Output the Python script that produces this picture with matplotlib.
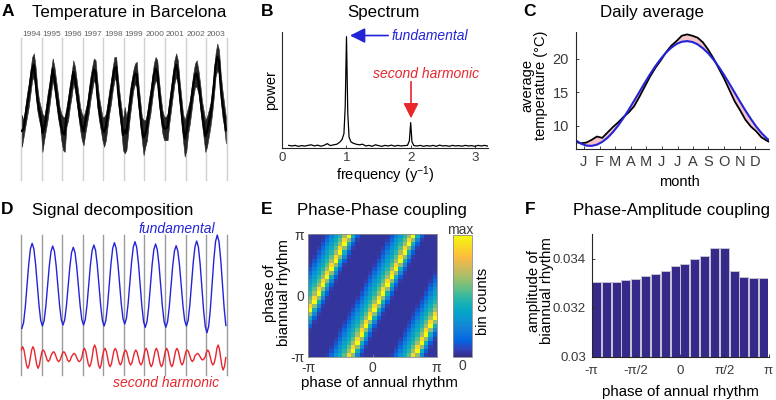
import numpy as np
import matplotlib.pyplot as plt
from matplotlib.colors import LinearSegmentedColormap

plt.rcParams['font.family'] = ['Liberation Sans', 'DejaVu Sans']
plt.rcParams['axes.unicode_minus'] = False
plt.rcParams['mathtext.fontset'] = 'custom'
plt.rcParams['mathtext.rm'] = 'Liberation Sans'
plt.rcParams['mathtext.it'] = 'Liberation Sans:italic'

W, H = 776, 400

# ---- A: daily temperature in Barcelona, monthly upper / lower envelope (degC)
years = list(range(1994, 2004))
temp_hi = [11.6, 10.2, 13.8, 17.5, 20.2, 23.9, 27.5, 28.5, 24.8, 19.3, 15.7, 13.8,
           12.0, 11.1, 13.8, 17.5, 20.2, 23.9, 27.1, 24.8, 21.1, 17.5, 13.8, 12.0,
           11.1, 11.1, 13.8, 16.6, 20.2, 23.0, 26.6, 24.8, 21.1, 17.5, 13.8, 12.0,
           11.1, 12.9, 14.8, 18.4, 22.1, 24.8, 27.1, 26.6, 21.1, 16.6, 13.8, 11.1,
           11.1, 12.0, 14.8, 18.4, 21.1, 24.8, 27.5, 27.5, 22.1, 17.5, 13.8, 10.2,
           13.8, 11.1, 13.8, 18.4, 21.1, 23.9, 25.7, 26.2, 20.2, 15.7, 11.1, 10.2,
           10.2, 12.0, 15.7, 18.4, 22.1, 25.7, 27.5, 26.6, 21.1, 16.6, 12.9, 11.1,
           11.1, 12.0, 15.7, 19.3, 23.0, 26.6, 28.5, 26.6, 21.1, 16.6, 12.0, 10.2,
           12.0, 13.8, 15.7, 19.3, 23.0, 25.7, 26.6, 23.9, 20.2, 15.7, 12.9, 10.2,
           11.1, 12.9, 14.8, 18.4, 23.0, 28.5, 31.2, 29.4, 23.0, 18.4, 14.8, 11.1]
temp_lo = [2.9, 5.6, 8.4, 11.1, 13.8, 17.5, 21.1, 22.1, 17.5, 12.9, 10.2, 8.4,
           1.5, 4.7, 7.5, 10.2, 13.8, 17.5, 21.1, 18.4, 14.8, 11.1, 8.4, 4.7,
           2.0, 1.5, 8.4, 10.2, 13.8, 16.6, 20.2, 18.4, 14.8, 11.1, 7.5, 4.7,
           3.3, 6.5, 9.3, 12.0, 15.7, 18.4, 21.1, 20.2, 13.8, 10.2, 7.5, 4.7,
           2.9, 4.7, 8.4, 12.0, 14.8, 18.4, 21.1, 22.1, 15.7, 11.1, 7.5, 2.0,
           1.1, 2.0, 6.5, 11.1, 14.8, 18.4, 20.2, 19.3, 13.8, 9.3, 4.7, 0.6,
           2.9, 4.7, 9.3, 12.0, 15.7, 19.3, 21.1, 20.2, 14.8, 10.2, 6.5, 4.7,
           4.7, 4.7, 9.3, 12.9, 16.6, 20.2, 22.1, 20.2, 14.8, 10.2, 4.7, 0.2,
           2.0, 6.5, 9.3, 12.9, 16.6, 19.3, 19.3, 17.5, 13.8, 9.3, 5.6, 1.5,
           2.9, 5.6, 8.4, 12.0, 16.6, 22.1, 23.9, 23.0, 15.7, 11.1, 8.4, 3.8]

# ---- B: power spectrum (normalised)
freq = [0.10, 0.15, 0.20, 0.25, 0.30, 0.35, 0.40, 0.45, 0.50, 0.55, 0.60, 0.65,
        0.70, 0.75, 0.80, 0.85, 0.90, 0.93, 0.96, 0.98, 1.00, 1.02, 1.04, 1.07,
        1.10, 1.15, 1.20, 1.25, 1.30, 1.35, 1.40, 1.45, 1.50, 1.55, 1.60, 1.65,
        1.70, 1.75, 1.80, 1.85, 1.90, 1.95, 1.98, 2.00, 2.02, 2.05, 2.10, 2.15,
        2.20, 2.25, 2.30, 2.35, 2.40, 2.45, 2.50, 2.55, 2.60, 2.65, 2.70, 2.75,
        2.80, 2.85, 2.90, 2.95, 3.00, 3.05, 3.10, 3.15, 3.20]
power = [0.020, 0.015, 0.020, 0.012, 0.018, 0.014, 0.020, 0.025, 0.015, 0.022, 0.013, 0.020,
         0.035, 0.018, 0.025, 0.030, 0.050, 0.070, 0.120, 0.350, 0.957, 0.300, 0.090, 0.050,
         0.040, 0.030, 0.025, 0.030, 0.015, 0.020, 0.012, 0.025, 0.018, 0.012, 0.020, 0.015,
         0.022, 0.013, 0.020, 0.015, 0.018, 0.020, 0.060, 0.216, 0.050, 0.018, 0.015, 0.020,
         0.012, 0.018, 0.014, 0.020, 0.012, 0.022, 0.015, 0.018, 0.012, 0.020, 0.015, 0.018,
         0.013, 0.020, 0.015, 0.018, 0.012, 0.020, 0.015, 0.020, 0.014]

# ---- C: daily average and cosine fit (degC)
doy = [0, 10, 20, 30, 40, 50, 60, 70, 80, 90, 100, 110, 120, 130, 140, 150, 160, 170, 180,
       190, 200, 210, 220, 230, 240, 250, 260, 270, 280, 290, 300, 310, 320, 330, 340, 350, 360, 365]
daily_mean = [7.6, 7.4, 7.5, 7.9, 8.4, 8.2, 9.0, 9.8, 10.5, 11.3, 12.0, 12.9, 14.3, 15.8, 17.3,
              18.6, 19.7, 20.9, 21.9, 22.6, 23.4, 23.6, 23.4, 23.1, 22.4, 21.3, 20.0, 18.5,
              17.0, 15.3, 13.6, 12.3, 10.9, 9.9, 9.2, 8.3, 7.8, 7.6]
cos_fit = [7.83, 7.34, 7.05, 7.01, 7.19, 7.60, 8.22, 9.04, 10.03, 11.16, 12.39, 13.70, 15.03,
           16.37, 17.65, 18.85, 19.92, 20.86, 21.61, 22.17, 22.50, 22.60, 22.47, 22.11, 21.52,
           20.77, 19.83, 18.74, 17.53, 16.24, 14.90, 13.57, 12.27, 11.05, 9.92, 8.95, 8.15, 7.83]
month_labels = ['J', 'F', 'M', 'A', 'M', 'J', 'J', 'A', 'S', 'O', 'N', 'D']
month_ticks = [15, 45, 74, 104, 133, 162, 192, 221, 250, 279, 309, 338]

# ---- D: annual (12 per year) and biannual (16 per year) components
fundamental = [-4.33, -3.76, -2.21, -0.08, 2.05, 3.60, 4.17, 3.62, 2.10, 0.04, -2.03, -3.55,
               -4.10, -3.56, -2.10, -0.10, 1.90, 3.36, 3.90, 3.37, 1.93, -0.05, -2.03, -3.47,
               -4.00, -3.48, -2.06, -0.12, 1.83, 3.25, 3.77, 3.25, 1.83, -0.12, -2.06, -3.48,
               -4.00, -3.46, -2.00, 0.00, 2.00, 3.46, 4.00, 3.46, 1.98, -0.05, -2.08, -3.56,
               -4.10, -3.54, -2.02, 0.07, 2.15, 3.67, 4.23, 3.69, 2.20, 0.17, -1.87, -3.36,
               -3.90, -3.35, -1.84, 0.22, 2.27, 3.78, 4.33, 3.76, 2.19, 0.05, -2.09, -3.66,
               -4.23, -3.67, -2.15, -0.07, 2.02, 3.54, 4.10, 3.54, 2.02, -0.07, -2.15, -3.67,
               -4.23, -3.68, -2.19, -0.15, 1.89, 3.38, 3.93, 3.39, 1.92, -0.09, -2.09, -3.56,
               -4.10, -3.53, -1.98, 0.15, 2.28, 3.83, 4.40, 3.79, 2.11, -0.19, -2.48, -4.16,
               -4.77, -4.12, -2.33, 0.12, 2.56, 4.35, 5.00, 4.35, 2.58, 0.15, -2.28, -4.05]
second_harm = [-6.49, -6.17, -6.49, -7.25, -8.01, -8.33, -8.01, -7.25,
               -6.49, -6.17, -6.49, -7.25, -8.01, -8.33, -8.01, -7.25,
               -6.67, -6.50, -6.67, -7.08, -7.49, -7.66, -7.49, -7.08,
               -6.82, -6.67, -6.82, -7.17, -7.52, -7.67, -7.52, -7.17,
               -6.82, -6.67, -6.82, -7.17, -7.52, -7.67, -7.52, -7.17,
               -6.95, -6.83, -6.95, -7.25, -7.55, -7.67, -7.55, -7.25,
               -6.60, -6.33, -6.60, -7.25, -7.90, -8.17, -7.90, -7.25,
               -6.34, -6.00, -6.34, -7.17, -8.00, -8.34, -8.00, -7.17,
               -6.60, -6.33, -6.60, -7.25, -7.90, -8.17, -7.90, -7.25,
               -6.58, -6.34, -6.58, -7.17, -7.76, -8.00, -7.76, -7.17,
               -6.72, -6.50, -6.72, -7.25, -7.78, -8.00, -7.78, -7.25,
               -6.72, -6.50, -6.72, -7.25, -7.78, -8.00, -7.78, -7.25,
               -6.60, -6.33, -6.60, -7.25, -7.90, -8.17, -7.90, -7.25,
               -6.60, -6.33, -6.60, -7.25, -7.90, -8.17, -7.90, -7.25,
               -6.60, -6.33, -6.60, -7.25, -7.90, -8.17, -7.90, -7.25,
               -6.58, -6.34, -6.58, -7.17, -7.76, -8.00, -7.76, -7.17,
               -6.67, -6.50, -6.67, -7.08, -7.49, -7.66, -7.49, -7.08,
               -6.94, -6.84, -6.94, -7.17, -7.40, -7.50, -7.40, -7.17,
               -6.72, -6.50, -6.72, -7.25, -7.78, -8.00, -7.78, -7.25,
               -6.37, -6.00, -6.37, -7.25, -8.13, -8.50, -8.13, -7.25]

# ---- E: phase-phase histogram, profile across the diagonal band (fraction of max)
band_profile = [1.0, 0.9, 0.66, 0.55, 0.47, 0.41, 0.35, 0.29, 0.23, 0.16, 0.1, 0.05, 0.03, 0.03, 0.03,
                0.03, 0.03, 0.03, 0.03, 0.03, 0.03, 0.03, 0.03, 0.03, 0.03, 0.05, 0.12, 0.26, 0.42, 0.62]
band_start_row = 11
band_slope = 2

# ---- F: biannual amplitude per annual phase bin
pac_amp = [0.03307, 0.03307, 0.03306, 0.03313, 0.03316, 0.03329, 0.03336, 0.03352, 0.03371,
           0.03380, 0.03400, 0.03410, 0.03445, 0.03444, 0.03350, 0.03327, 0.03321, 0.03321]

parula = LinearSegmentedColormap.from_list('parula', [
    (0.2081, 0.1663, 0.5292), (0.1959, 0.2645, 0.7279), (0.0117, 0.3875, 0.8820),
    (0.0498, 0.4586, 0.8641), (0.0793, 0.5200, 0.8312), (0.0343, 0.5966, 0.8199),
    (0.0228, 0.6535, 0.7768), (0.0843, 0.6928, 0.7062), (0.2178, 0.7250, 0.6193),
    (0.3953, 0.7459, 0.5244), (0.5709, 0.7485, 0.4494), (0.7184, 0.7411, 0.3905),
    (0.8507, 0.7299, 0.3360), (0.9739, 0.7314, 0.2666), (0.9880, 0.8066, 0.1794),
    (0.9589, 0.8949, 0.1132), (0.9763, 0.9831, 0.0538)])

BLUE = '#2323d8'
RED = '#e8262c'
TICKC = '#3a3a3a'

fig = plt.figure(figsize=(W / 100, H / 100), dpi=100)


def box(l, t, r, b):
    return [l / W, 1 - b / H, (r - l) / W, (b - t) / H]


def ftext(x, y, s, **kw):
    kw.setdefault('ha', 'center')
    kw.setdefault('va', 'center')
    fig.text(x / W, 1 - y / H, s, **kw)


def style_ax(ax, size):
    for s in ['top', 'right']:
        ax.spines[s].set_visible(False)
    for s in ['left', 'bottom']:
        ax.spines[s].set_color('#262626')
        ax.spines[s].set_linewidth(0.8)
    ax.tick_params(direction='in', length=2, width=0.6, colors='#262626',
                   labelsize=size, labelcolor=TICKC)


# panel letters and titles
for x, y, s in [(8, 12, 'A'), (267, 11, 'B'), (530, 11, 'C'),
                (7, 210, 'D'), (267, 209, 'E'), (530, 210, 'F')]:
    ftext(x, y, s, fontsize=12.5, fontweight='bold')
for x, y, s in [(129.5, 13, 'Temperature in Barcelona'), (383.3, 12.5, 'Spectrum'),
                (651.7, 12.5, 'Daily average'), (112.8, 210, 'Signal decomposition'),
                (381.7, 210, 'Phase-Phase coupling'), (671.7, 210, 'Phase-Amplitude coupling')]:
    ftext(x, y, s, fontsize=12.2)

# A
axA = fig.add_axes(box(21, 38, 226.7, 180))
tA = years[0] + (np.arange(len(temp_hi)) + 0.5) / 12
for y in years + [years[-1] + 1]:
    axA.axvline(y, color='#cfcfcf', lw=1, zorder=0, clip_on=False)
axA.fill_between(tA, temp_lo, temp_hi, color='#262626', lw=0.4)
axA.plot(tA, (np.array(temp_hi) + np.array(temp_lo)) / 2, color='black', lw=1.6)
for y in years:
    axA.text(y + 0.5, 32.7, str(y), ha='center', va='bottom', fontsize=6, color='#606060')
axA.set_xlim(years[0], years[-1] + 1)
axA.set_ylim(-6.2, 32.7)
axA.axis('off')

# B
axB = fig.add_axes(box(282.3, 31.7, 487.7, 147.7))
axB.plot(freq, power, color='black', lw=0.9)
axB.set_xlim(0, 3.2)
axB.set_ylim(0, 1)
axB.set_xticks([0, 1, 2, 3])
axB.set_yticks([])
style_ax(axB, 9.5)
axB.tick_params(axis='x', pad=3)
axB.annotate('', xy=(1.055, 0.967), xytext=(1.65, 0.967),
             arrowprops=dict(arrowstyle='-|>,head_length=0.7,head_width=0.35', color=BLUE,
                             lw=1.2, mutation_scale=13, shrinkA=0, shrinkB=0))
axB.text(2.30, 0.967, 'fundamental', color=BLUE, style='italic', fontsize=10,
         ha='center', va='center')
axB.annotate('', xy=(2.005, 0.253), xytext=(2.005, 0.569),
             arrowprops=dict(arrowstyle='-|>,head_length=0.7,head_width=0.35', color=RED,
                             lw=1.2, mutation_scale=13, shrinkA=0, shrinkB=0))
axB.text(2.243, 0.635, 'second harmonic', color=RED, style='italic', fontsize=10,
         ha='center', va='center')
ftext(271, 90, 'power', fontsize=10.5, rotation=90)
ftext(385, 175.5, 'frequency (y$^{-1}$)', fontsize=10.5)

# C
axC = fig.add_axes(box(575.7, 31.7, 769.3, 149.3))
axC.fill_between(doy, daily_mean, cos_fit, color='#f5c3ca', lw=0)
axC.plot(doy, daily_mean, color='black', lw=1.3)
axC.plot(doy, cos_fit, color=BLUE, lw=1.5)
axC.set_xlim(0, 365)
axC.set_ylim(6.5, 24)
axC.set_xticks(month_ticks)
axC.set_xticklabels(month_labels)
axC.set_yticks([10, 15, 20])
style_ax(axC, 10.5)
axC.tick_params(axis='y', pad=5)
axC.tick_params(axis='x', pad=4)
ftext(534, 85, 'average\ntemperature (°C)', fontsize=10.5, rotation=90, linespacing=0.95)
ftext(679.5, 181.7, 'month', fontsize=10.5)

# D
axD = fig.add_axes(box(21, 235, 226.7, 375))
tF = years[0] + (np.arange(len(fundamental)) + 0.5) / 12
tH = years[0] + (np.arange(len(second_harm)) + 0.3) / 16
for y in years + [years[-1] + 1]:
    axD.axvline(y, color='#9a9a9a', lw=1, zorder=0, clip_on=False)
axD.plot(tF, fundamental, color=BLUE, lw=1, clip_on=False)
axD.plot(tH, second_harm, color=RED, lw=1, clip_on=False)
axD.set_xlim(years[0], years[-1] + 1)
axD.set_ylim(-9, 5)
axD.axis('off')
ftext(176.7, 229, 'fundamental', color=BLUE, style='italic', fontsize=10)
ftext(165.8, 383, 'second harmonic', color=RED, style='italic', fontsize=10)

# E
axE = fig.add_axes(box(308.3, 234.3, 436.7, 356.7))
nb = len(band_profile)
prof = np.array(band_profile)
rows = np.arange(nb)
center = (band_start_row + band_slope * np.arange(nb)) % nb
counts = prof[(rows[:, None] - center[None, :]) % nb]
im = axE.imshow(counts, origin='lower', extent=[-np.pi, np.pi, -np.pi, np.pi], cmap=parula,
                vmin=0, vmax=1, aspect='auto', interpolation='nearest')
axE.set_xticks([-np.pi, 0, np.pi])
axE.set_xticklabels(['-π', '0', 'π'])
axE.set_yticks([-np.pi, 0, np.pi])
axE.set_yticklabels(['-π', '0', 'π'])
for s in axE.spines.values():
    s.set_color('#8c8c8c')
    s.set_linewidth(0.6)
axE.tick_params(direction='in', length=2, width=0.5, colors='#8c8c8c', labelsize=10,
                labelcolor=TICKC, pad=3)
cax = fig.add_axes(box(452.7, 235, 472.3, 356.7))
cb = fig.colorbar(im, cax=cax)
cb.set_ticks([])
cb.outline.set_edgecolor('#8c8c8c')
cb.outline.set_linewidth(0.6)
ftext(460, 230, 'max', fontsize=10, color=TICKC)
ftext(462.3, 365.7, '0', fontsize=10, color=TICKC)
ftext(483.3, 301, 'bin counts', fontsize=10.5, rotation=90)
ftext(277, 293, 'phase of\nbiannual rhythm', fontsize=10.8, rotation=90, linespacing=0.95)
ftext(379, 383, 'phase of annual rhythm', fontsize=10.8)

# F
axF = fig.add_axes(box(591.5, 234.3, 768.5, 356.7))
nf = len(pac_amp)
edges = np.linspace(-np.pi, np.pi, nf + 1)
axF.bar((edges[:-1] + edges[1:]) / 2, pac_amp, width=0.92 * (edges[1] - edges[0]),
        color='#35298a', edgecolor='#c4c4d4', lw=0.7)
axF.set_xlim(-np.pi, np.pi)
axF.set_ylim(0.03, 0.035)
axF.set_yticks([0.03, 0.032, 0.034])
axF.set_yticklabels(['0.03', '0.032', '0.034'])
axF.set_xticks([-np.pi, -np.pi / 2, 0, np.pi / 2, np.pi])
axF.set_xticklabels(['-π', '-π/2', '0', 'π/2', 'π'])
style_ax(axF, 9.5)
axF.tick_params(axis='y', pad=4)
axF.tick_params(axis='x', pad=6)
ftext(540.5, 291, 'amplitude of\nbiannual rhythm', fontsize=10.8, rotation=90, linespacing=0.95)
ftext(680.8, 391.7, 'phase of annual rhythm', fontsize=10.8)

fig.savefig('out.png', dpi=100)
